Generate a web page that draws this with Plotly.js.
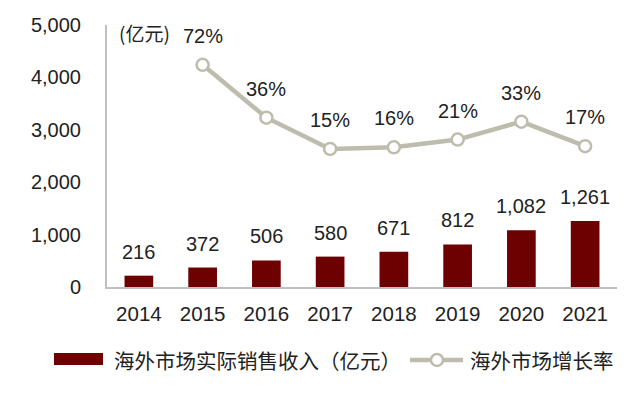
<!DOCTYPE html>
<html>
<head>
<meta charset="utf-8">
<script src="https://cdn.plot.ly/plotly-3.0.1.min.js"></script>
<style>html,body{margin:0;padding:0;background:#fff;}#chart{width:640px;height:397px;}</style>
</head>
<body>
<div id="chart"></div>
<script>
const years = ['2014','2015','2016','2017','2018','2019','2020','2021'];
const revenue = [216, 372, 506, 580, 671, 812, 1082, 1261];
const growthYears = ['2015','2016','2017','2018','2019','2020','2021'];
const growth = [72.2, 36.0, 14.6, 15.7, 21.0, 33.3, 16.5];
const yTicks = [0, 1000, 2000, 3000, 4000, 5000];
const yTickText = ['0', '1,000', '2,000', '3,000', '4,000', '5,000'];
const barName = '海外市场实际销售收入（亿元）';
const lineName = '海外市场增长率';
const unitLabel = '(亿元)';

const LATIN = '"Liberation Sans", Arial, sans-serif';
const CJK = '"Noto Sans CJK SC", "Liberation Sans", sans-serif';
const TXT = '#222222';
const BAR = '#6D0000';
const LINE = '#BEBDAD';
const AX = '#BFBFBF';

const traces = [
  {
    type: 'bar', x: years, y: revenue, name: barName,
    marker: {color: BAR}, hoverinfo: 'skip', showlegend: false
  },
  {
    type: 'scatter', mode: 'lines+markers', x: growthYears, y: growth, yaxis: 'y2',
    name: lineName, line: {color: LINE, width: 4.5},
    marker: {symbol: 'circle', size: 12, color: '#ffffff', line: {color: LINE, width: 2.5}},
    hoverinfo: 'skip', showlegend: false
  }
];

const annotations = [];
years.forEach((yr, i) => {
  annotations.push({
    x: i, y: revenue[i], xref: 'x', yref: 'y', text: revenue[i].toLocaleString('en-US'),
    showarrow: false, yanchor: 'middle', yshift: 24,
    font: {family: LATIN, size: 20, color: TXT}
  });
});
growthYears.forEach((yr, i) => {
  annotations.push({
    x: years.indexOf(yr), y: growth[i], xref: 'x', yref: 'y2', text: Math.round(growth[i]) + '%',
    showarrow: false, yanchor: 'middle', yshift: 29,
    font: {family: LATIN, size: 20, color: TXT}
  });
});
annotations.push({
  x: 0.0196, y: 0.973, xref: 'paper', yref: 'paper', text: unitLabel,
  showarrow: false, xanchor: 'left', yanchor: 'middle',
  font: {family: CJK, size: 19, color: TXT}
});
annotations.push({
  x: 0.0098, y: -0.2786, xref: 'paper', yref: 'paper', text: barName,
  showarrow: false, xanchor: 'left', yanchor: 'middle',
  font: {family: CJK, size: 20.5, color: TXT}
});
annotations.push({
  x: 0.708, y: -0.2786, xref: 'paper', yref: 'paper', text: lineName,
  showarrow: false, xanchor: 'left', yanchor: 'middle',
  font: {family: CJK, size: 20.5, color: TXT}
});

const shapes = [
  {type: 'rect', xref: 'paper', yref: 'paper', x0: -0.104, x1: -0.0078, y0: -0.298, y1: -0.252,
   fillcolor: BAR, line: {width: 0}},
  {type: 'line', xref: 'paper', yref: 'paper', x0: 0.594, x1: 0.698, y0: -0.2786, y1: -0.2786,
   line: {color: LINE, width: 4.5}},
  {type: 'circle', xref: 'paper', yref: 'paper', xsizemode: 'pixel', ysizemode: 'pixel',
   xanchor: 0.647, yanchor: -0.2786, x0: -6, x1: 6, y0: -6, y1: 6,
   fillcolor: '#ffffff', line: {color: LINE, width: 2.5}}
];

const layout = {
  width: 640, height: 397,
  margin: {l: 107, r: 23, t: 25, b: 110},
  paper_bgcolor: '#ffffff', plot_bgcolor: '#ffffff',
  showlegend: false,
  bargap: 0.55,
  font: {family: LATIN, size: 19, color: TXT},
  xaxis: {
    type: 'category', categoryorder: 'array', categoryarray: years,
    range: [-0.5, 7.5], autorange: false,
    showline: true, linecolor: AX, linewidth: 2, showgrid: false, zeroline: false,
    ticks: '', ticklabelstandoff: 7,
    tickfont: {family: LATIN, size: 20.5, color: TXT}
  },
  yaxis: {
    range: [0, 5000], autorange: false, tickvals: yTicks, ticktext: yTickText,
    showline: true, linecolor: AX, linewidth: 2, showgrid: false, zeroline: false,
    ticks: '', ticklabelstandoff: 20,
    tickfont: {family: LATIN, size: 20, color: TXT}
  },
  yaxis2: {
    overlaying: 'y', side: 'right', range: [-80, 99.5], autorange: false,
    visible: false, showgrid: false, zeroline: false
  },
  annotations: annotations,
  shapes: shapes
};

Plotly.newPlot('chart', traces, layout, {displayModeBar: false, staticPlot: true});
</script>
</body>
</html>
